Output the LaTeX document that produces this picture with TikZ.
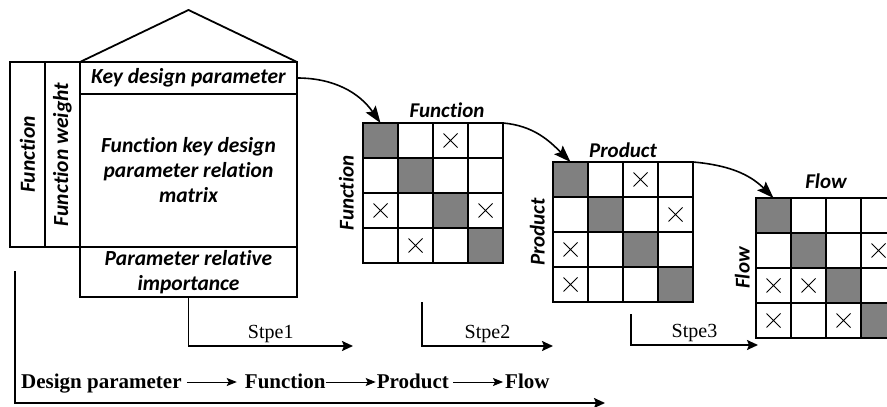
\documentclass[tikz,border=0pt]{standalone}
\usepackage{fontspec}
\setmainfont{Liberation Serif}
\newfontfamily\calibfont[Ligatures=NoCommon]{Carlito}
\definecolor{CellGray}{RGB}{128,128,128}
\usetikzlibrary{arrows.meta, positioning, calc}

\begin{document}
\begin{tikzpicture}[x=1pt, y=1pt,
        part/.style={rectangle, draw, line width=1.8pt, inner sep=0pt, outer sep=0pt, align=center, font=\calibfont\bfseries\itshape\fontsize{21.5}{25}\selectfont},
        cell/.style={rectangle, draw, line width=1.8pt, fill=white, minimum size=35pt, inner sep=0pt, outer sep=0pt},
        mlabel/.style={font=\calibfont\bfseries\itshape\fontsize{21}{24}\selectfont, inner sep=0pt},
        xmark/.style={line width=0.9pt},
        steptext/.style={font=\fontsize{20}{24}\selectfont, inner sep=0pt},
        flowtext/.style={font=\bfseries\fontsize{21}{24}\selectfont, inner sep=0pt, text height=14pt, text depth=1pt},
        arrow/.style={-{Stealth[length=11pt, width=10pt, inset=2pt]}, line width=1.8pt},
        flowarrow/.style={-{Stealth[length=10pt, width=8pt, inset=2pt]}, line width=1pt},
        curvearrow/.style={-{Stealth[length=17pt, width=12pt, inset=3pt]}, line width=1.6pt}
    ]
    \useasboundingbox (0,0) rectangle (887,-407);
    \clip (0,0) rectangle (887,-407);

    % house of quality
    \node[part, minimum width=217pt, minimum height=32pt] (kdp) at (188.5,-78) {Key design parameter};
    \node[part, minimum width=217pt, minimum height=153pt, below=0pt of kdp] (frm) {Function key design\\parameter relation\\matrix};
    \node[part, minimum width=217pt, minimum height=50pt, below=0pt of frm] (pri) {Parameter relative\\importance};
    \node[part, rotate=90, minimum width=185pt, minimum height=35pt, anchor=south east] (fwcol) at (kdp.north west) {Function weight};
    \node[part, rotate=90, minimum width=185pt, minimum height=35pt, anchor=south east] (fncol) at (fwcol.north east) {Function};
    \draw[line width=1.8pt] (kdp.north west) -- ($(kdp.north)+(0,52)$) -- (kdp.north east);

    % relation matrices
    \foreach \mname/\mx/\my in {fm/363/123, pm/553/162, lm/756/198}
        \foreach \r in {1,...,4}
            \foreach \c in {1,...,4}
                \node[cell] (\mname-\r-\c) at (\mx+35*\c-17.5, -\my-35*\r+17.5) {};
    \foreach \m in {fm,pm,lm}
        \foreach \i in {1,...,4}
            \node[cell, fill=CellGray] at (\m-\i-\i) {};
    \foreach \m/\r/\c in {fm/1/3, fm/3/1, fm/3/4, fm/4/2, pm/1/3, pm/2/4, pm/3/1, pm/4/1, lm/2/4, lm/3/1, lm/3/2, lm/4/1, lm/4/3}
        \draw[xmark] ([shift={(-7,-7)}]\m-\r-\c.center) -- ([shift={(7,7)}]\m-\r-\c.center)
                     ([shift={(-7,7)}]\m-\r-\c.center) -- ([shift={(7,-7)}]\m-\r-\c.center);

    \node[mlabel, above=5pt of fm-1-3.north west, xshift=14pt] (fmtop) {Function};
    \node[mlabel, above=4pt of pm-1-3.north west] (pmtop) {Product};
    \node[mlabel, above=9pt of lm-1-3.north west] (lmtop) {Flow};
    \node[mlabel, rotate=90, anchor=south] (fmside) at ([xshift=-9pt]fm-2-1.south west) {Function};
    \node[mlabel, rotate=90, anchor=south] (pmside) at ([xshift=-8pt]pm-2-1.south west) {Product};
    \node[mlabel, rotate=90, anchor=south] (lmside) at ([xshift=-6pt]lm-2-1.south west) {Flow};

    \draw[curvearrow] (kdp.east) to[out=0, in=125] (fm-1-1.north);
    \draw[curvearrow] (fm-1-4.north east) to[out=-5, in=135] (pm-1-1.north);
    \draw[curvearrow] (pm-1-4.north east) to[out=-5, in=135] (lm-1-1.north);

    % steps
    \coordinate (s1end) at (353,-346);
    \coordinate (s2top) at (422,-302);
    \coordinate (s2end) at (pm-4-1.south west |- s1end);
    \coordinate (s3top) at (631,-314);
    \coordinate (s3end) at (758,-345);
    \draw[arrow] (pri.south) |- node[steptext, pos=0.75, above=2pt] {Stpe1} (s1end);
    \draw[arrow] (s2top) |- node[steptext, pos=0.75, above=2pt] {Stpe2} (s2end);
    \draw[arrow] (s3top) |- node[steptext, pos=0.75, above=2pt] {Stpe3} (s3end);

    % mapping chain
    \node[flowtext, anchor=west] (dp) at (21,-382) {Design parameter};
    \node[flowtext, right=63pt of dp] (fn) {Function};
    \node[flowtext, right=51pt of fn] (pr) {Product};
    \node[flowtext, right=56pt of pr] (fl) {Flow};
    \draw[flowarrow, shorten <=5pt, shorten >=8pt] (dp) -- (fn);
    \draw[flowarrow, shorten >=1pt] (fn) -- (pr);
    \draw[flowarrow, shorten <=4pt, shorten >=2pt] (pr) -- (fl);

    \coordinate (basetop) at (15,-271);
    \coordinate (baseend) at (605,-403);
    \draw[arrow] (basetop) |- (baseend);
\end{tikzpicture}
\end{document}
